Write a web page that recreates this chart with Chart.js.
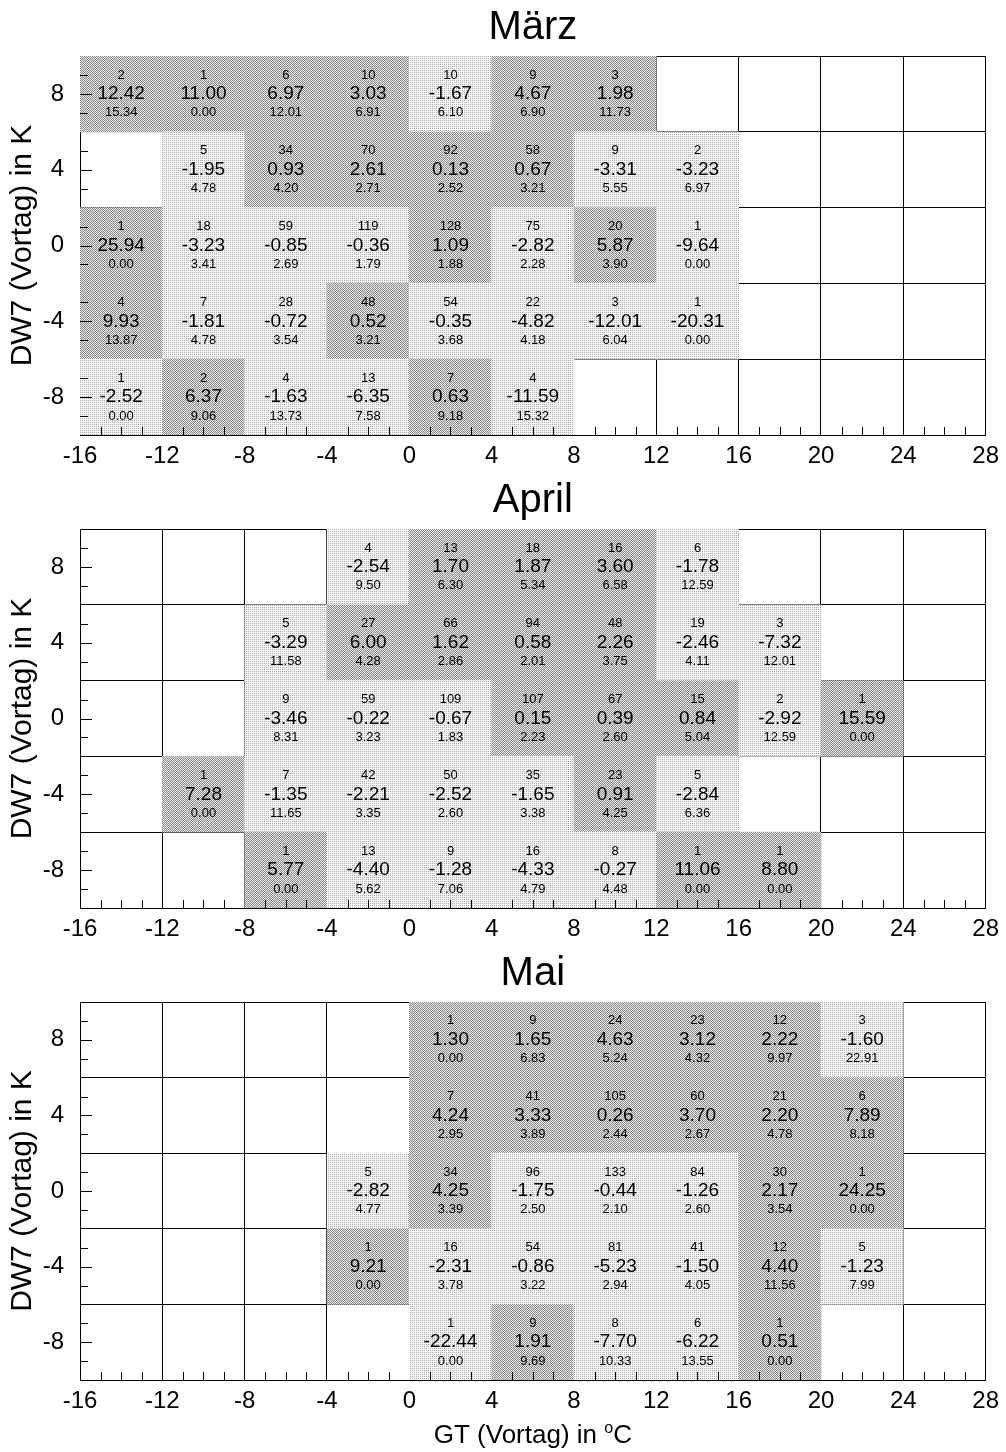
<!DOCTYPE html>
<html>
<head>
<meta charset="utf-8">
<title>GT / DW7 Vortag</title>
<script src="https://cdn.jsdelivr.net/npm/chart.js@4.4.1/dist/chart.umd.min.js"></script>
<style>
  body { margin: 0; background: #fff; }
  canvas { display: block; }
</style>
</head>
<body>
<canvas id="maerz" width="1006" height="473"></canvas>
<canvas id="april" width="1006" height="473"></canvas>
<canvas id="mai" width="1006" height="506"></canvas>
<script>
// bin edges of GT (Vortag), bin centres of DW7 (Vortag); each row is 4 K wide
const gtEdges = [-16, -12, -8, -4, 0, 4, 8, 12, 16, 20, 24, 28];
const dwRows = [8, 4, 0, -4, -8];
const _ = null;

// März: Anzahl, Mittelwert, Streuung je Zelle (Zeilen = dwRows, Spalten = GT-Bins)
const maerzN = [
  [2, 1, 6, 10, 10, 9, 3, _, _, _, _],
  [_, 5, 34, 70, 92, 58, 9, 2, _, _, _],
  [1, 18, 59, 119, 128, 75, 20, 1, _, _, _],
  [4, 7, 28, 48, 54, 22, 3, 1, _, _, _],
  [1, 2, 4, 13, 7, 4, _, _, _, _, _]
];
const maerzMean = [
  [12.42, 11.00, 6.97, 3.03, -1.67, 4.67, 1.98, _, _, _, _],
  [_, -1.95, 0.93, 2.61, 0.13, 0.67, -3.31, -3.23, _, _, _],
  [25.94, -3.23, -0.85, -0.36, 1.09, -2.82, 5.87, -9.64, _, _, _],
  [9.93, -1.81, -0.72, 0.52, -0.35, -4.82, -12.01, -20.31, _, _, _],
  [-2.52, 6.37, -1.63, -6.35, 0.63, -11.59, _, _, _, _, _]
];
const maerzStd = [
  [15.34, 0.00, 12.01, 6.91, 6.10, 6.90, 11.73, _, _, _, _],
  [_, 4.78, 4.20, 2.71, 2.52, 3.21, 5.55, 6.97, _, _, _],
  [0.00, 3.41, 2.69, 1.79, 1.88, 2.28, 3.90, 0.00, _, _, _],
  [13.87, 4.78, 3.54, 3.21, 3.68, 4.18, 6.04, 0.00, _, _, _],
  [0.00, 9.06, 13.73, 7.58, 9.18, 15.32, _, _, _, _, _]
];

// April
const aprilN = [
  [_, _, _, 4, 13, 18, 16, 6, _, _, _],
  [_, _, 5, 27, 66, 94, 48, 19, 3, _, _],
  [_, _, 9, 59, 109, 107, 67, 15, 2, 1, _],
  [_, 1, 7, 42, 50, 35, 23, 5, _, _, _],
  [_, _, 1, 13, 9, 16, 8, 1, 1, _, _]
];
const aprilMean = [
  [_, _, _, -2.54, 1.70, 1.87, 3.60, -1.78, _, _, _],
  [_, _, -3.29, 6.00, 1.62, 0.58, 2.26, -2.46, -7.32, _, _],
  [_, _, -3.46, -0.22, -0.67, 0.15, 0.39, 0.84, -2.92, 15.59, _],
  [_, 7.28, -1.35, -2.21, -2.52, -1.65, 0.91, -2.84, _, _, _],
  [_, _, 5.77, -4.40, -1.28, -4.33, -0.27, 11.06, 8.80, _, _]
];
const aprilStd = [
  [_, _, _, 9.50, 6.30, 5.34, 6.58, 12.59, _, _, _],
  [_, _, 11.58, 4.28, 2.86, 2.01, 3.75, 4.11, 12.01, _, _],
  [_, _, 8.31, 3.23, 1.83, 2.23, 2.60, 5.04, 12.59, 0.00, _],
  [_, 0.00, 11.65, 3.35, 2.60, 3.38, 4.25, 6.36, _, _, _],
  [_, _, 0.00, 5.62, 7.06, 4.79, 4.48, 0.00, 0.00, _, _]
];

// Mai
const maiN = [
  [_, _, _, _, 1, 9, 24, 23, 12, 3, _],
  [_, _, _, _, 7, 41, 105, 60, 21, 6, _],
  [_, _, _, 5, 34, 96, 133, 84, 30, 1, _],
  [_, _, _, 1, 16, 54, 81, 41, 12, 5, _],
  [_, _, _, _, 1, 9, 8, 6, 1, _, _]
];
const maiMean = [
  [_, _, _, _, 1.30, 1.65, 4.63, 3.12, 2.22, -1.60, _],
  [_, _, _, _, 4.24, 3.33, 0.26, 3.70, 2.20, 7.89, _],
  [_, _, _, -2.82, 4.25, -1.75, -0.44, -1.26, 2.17, 24.25, _],
  [_, _, _, 9.21, -2.31, -0.86, -5.23, -1.50, 4.40, -1.23, _],
  [_, _, _, _, -22.44, 1.91, -7.70, -6.22, 0.51, _, _]
];
const maiStd = [
  [_, _, _, _, 0.00, 6.83, 5.24, 4.32, 9.97, 22.91, _],
  [_, _, _, _, 2.95, 3.89, 2.44, 2.67, 4.78, 8.18, _],
  [_, _, _, 4.77, 3.39, 2.50, 2.10, 2.60, 3.54, 0.00, _],
  [_, _, _, 0.00, 3.78, 3.22, 2.94, 4.05, 11.56, 7.99, _],
  [_, _, _, _, 0.00, 9.69, 10.33, 13.55, 0.00, _, _]
];

const FONT = '"Liberation Sans", Helvetica, Arial, sans-serif';
Chart.defaults.font.family = FONT;
Chart.defaults.color = '#000';

// stippled fills: dense for positive mean, sparse for negative mean
function stipple(on, off, dense) {
  const c = document.createElement('canvas');
  c.width = 2; c.height = 2;
  const g = c.getContext('2d');
  g.fillStyle = off; g.fillRect(0, 0, 2, 2);
  g.fillStyle = on;
  g.fillRect(0, 0, 1, 1);
  if (dense) g.fillRect(1, 1, 1, 1);
  return g.createPattern(c, 'repeat');
}
const darkFill = stipple('#8e8e8e', '#e6e6e6', true);
const lightFill = stipple('#ababab', '#f7f7f7', false);

function cells(N, M, S) {
  const pts = [];
  dwRows.forEach((dw, r) => {
    N[r].forEach((n, c) => {
      if (n === null) return;
      pts.push({ x: gtEdges[c] + 2, y: [dw - 2, dw + 2], n: n, m: M[r][c], s: S[r][c] });
    });
  });
  return pts;
}

// count / mean / spread printed in each cell
const cellText = {
  id: 'cellText',
  afterDatasetsDraw(chart) {
    const { ctx, scales: { x, y } } = chart;
    ctx.save();
    ctx.fillStyle = '#000';
    ctx.textAlign = 'center';
    ctx.textBaseline = 'middle';
    chart.data.datasets[0].data.forEach(p => {
      const cx = x.getPixelForValue(p.x);
      const row = (p.y[0] + p.y[1]) / 2;
      ctx.font = '13px ' + FONT;
      ctx.fillText(String(p.n), cx, y.getPixelForValue(row + 1));
      ctx.font = '19px ' + FONT;
      ctx.fillText(p.m.toFixed(2), cx, y.getPixelForValue(row));
      ctx.font = '13px ' + FONT;
      ctx.fillText(p.s.toFixed(2), cx, y.getPixelForValue(row - 1));
    });
    ctx.restore();
  }
};

// tick marks pointing into the frame
const innerTicks = {
  id: 'innerTicks',
  afterDraw(chart) {
    const { ctx, scales: { x, y } } = chart;
    ctx.save();
    ctx.strokeStyle = '#000';
    ctx.lineWidth = 1;
    ctx.beginPath();
    for (let v = y.min + 1; v < y.max; v++) {
      if (Math.abs(v % 4) === 2) continue;
      const py = Math.round(y.getPixelForValue(v)) + 0.5;
      ctx.moveTo(x.left, py);
      ctx.lineTo(x.left + (v % 4 === 0 ? 12 : 8), py);
    }
    for (let v = x.min + 1; v < x.max; v++) {
      if (v % 4 === 0) continue;
      const px = Math.round(x.getPixelForValue(v)) + 0.5;
      ctx.moveTo(px, y.bottom);
      ctx.lineTo(px, y.bottom - 8);
    }
    ctx.stroke();
    ctx.restore();
  }
};

// x title with raised "o" before C
const gtTitle = {
  id: 'gtTitle',
  afterDraw(chart) {
    const { ctx, chartArea, scales: { x } } = chart;
    const big = '26px ' + FONT, small = '16px ' + FONT;
    const a = 'GT (Vortag) in ', b = 'o', c = 'C';
    ctx.save();
    ctx.fillStyle = '#000';
    ctx.textAlign = 'left';
    ctx.textBaseline = 'alphabetic';
    ctx.font = big;
    const wa = ctx.measureText(a).width, wc = ctx.measureText(c).width;
    ctx.font = small;
    const wb = ctx.measureText(b).width;
    let px = (chartArea.left + chartArea.right) / 2 - (wa + wb + wc) / 2;
    const base = x.bottom + 25;
    ctx.font = big; ctx.fillText(a, px, base); px += wa;
    ctx.font = small; ctx.fillText(b, px, base - 10); px += wb;
    ctx.font = big; ctx.fillText(c, px, base);
    ctx.restore();
  }
};

function makeChart(id, month, N, M, S, withTitle) {
  const plugins = [cellText, innerTicks];
  if (withTitle) plugins.push(gtTitle);
  return new Chart(document.getElementById(id), {
    type: 'bar',
    data: {
      datasets: [{
        data: cells(N, M, S),
        backgroundColor: ctx => (ctx.raw && ctx.raw.m > 0 ? darkFill : lightFill),
        borderWidth: 0,
        barPercentage: 1,
        categoryPercentage: 1
      }]
    },
    options: {
      responsive: false,
      animation: false,
      events: [],
      layout: { padding: { left: 0, right: 18, top: 0, bottom: withTitle ? 34 : 0 } },
      plugins: {
        legend: { display: false },
        tooltip: { enabled: false },
        title: {
          display: true,
          text: month,
          fullSize: false,
          color: '#000',
          font: { size: 40, weight: 'normal' },
          padding: { top: 4, bottom: 4 }
        }
      },
      scales: {
        x: {
          type: 'linear',
          min: -16,
          max: 28,
          offset: false,
          z: 1,
          ticks: { stepSize: 4, autoSkip: false, maxRotation: 0, padding: 7, color: '#000', font: { size: 24 } },
          grid: { offset: false, drawTicks: false, color: '#000' },
          border: { color: '#000' },
          afterFit: s => { s.height = 38; }
        },
        y: {
          min: -10,
          max: 10,
          z: 1,
          ticks: {
            stepSize: 2,
            autoSkip: false,
            padding: 16,
            color: '#000',
            font: { size: 24 },
            callback: v => (v % 4 === 0 ? String(v) : '')
          },
          grid: { drawTicks: false, color: c => (c.tick && c.tick.value % 4 === 0 ? 'rgba(0,0,0,0)' : '#000') },
          border: { color: '#000' },
          title: { display: true, text: 'DW7 (Vortag) in K', color: '#000', font: { size: 30 }, padding: { top: 5, bottom: 0 } },
          afterFit: s => { s.width = 80; }
        }
      }
    },
    plugins: plugins
  });
}

makeChart('maerz', 'März', maerzN, maerzMean, maerzStd, false);
makeChart('april', 'April', aprilN, aprilMean, aprilStd, false);
makeChart('mai', 'Mai', maiN, maiMean, maiStd, true);
</script>
</body>
</html>
